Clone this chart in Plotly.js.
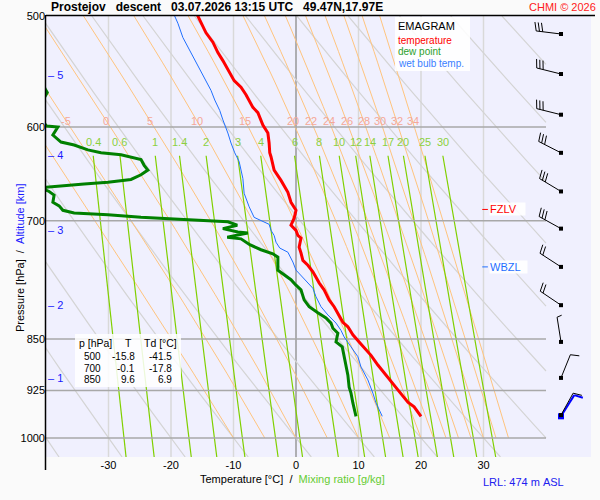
<!DOCTYPE html>
<html><head><meta charset="utf-8">
<script src="https://cdn.plot.ly/plotly-3.0.1.min.js"></script>
<style>html,body{margin:0;padding:0;background:#fafafa;}</style>
</head><body><div id="chart" style="width:600px;height:500px;"></div>
<script>
// ---------- profile data ----------
const tempP=[499,506,514,522,531,538,548,556,562,569,581,586,598,606,616,626,630,644,655,668,679,688,697,705,711,717,720,731,738,747,753,761,768,775,784,797,806,817,827,833,844,854,873,887,906,924,943,950,965];
const tempT=[-15.8,-15.2,-14.4,-13.3,-12.5,-11.7,-10.7,-9.9,-8.8,-8.0,-6.9,-6.1,-5.3,-4.5,-4.3,-4.2,-4.0,-3.5,-2.4,-1.3,-0.8,0.0,-0.3,-0.8,0.0,0.3,0.8,0.5,0.8,1.1,1.9,2.7,3.2,3.7,4.5,5.3,6.1,6.9,7.5,8.3,9.1,10.1,12.0,13.1,14.7,16.3,17.9,18.9,20.0];
const dewP=[499,538,563,567,572,585,599,600,608,615,618,623,626,628,633,639,644,649,654,657,659,661,663,667,671,679,683,688,691,693,696,698,700,701,705,709,713,714,719,721,728,734,739,743,759,765,771,778,784,797,806,814,821,828,835,842,854,861,875,891,902,920,929,944,965];
const dewT=[-41.5,-41.0,-40.2,-39.8,-40.3,-42.0,-39.9,-38.1,-38.9,-37.6,-35.5,-33.3,-31.2,-28.0,-24.8,-24.3,-23.7,-24.8,-26.4,-30.1,-33.9,-38.1,-40.8,-39.5,-38.7,-38.9,-37.9,-37.3,-35.5,-30.1,-24.8,-19.5,-13.6,-10.9,-9.4,-11.7,-9.3,-7.7,-11.0,-8.8,-7.4,-5.6,-3.7,-2.9,-2.9,-1.9,-0.8,0.0,0.8,1.3,2.1,3.5,4.8,5.6,5.9,6.7,6.4,7.4,7.7,8.0,8.3,8.5,8.8,9.1,9.6];
const wbP=[499,506,518,526,535,544,553,565,574,584,593,600,606,616,626,635,653,669,684,696,700,704,711,717,725,732,737,749,759,768,782,793,806,817,828,838,847,861,875,890,909,929,944,965];
const wbT=[-19.5,-18.9,-18.1,-17.3,-16.5,-15.5,-14.7,-13.6,-13.0,-12.2,-11.7,-11.2,-10.9,-10.4,-9.8,-9.1,-8.5,-8.3,-7.5,-6.7,-5.6,-4.3,-4.0,-3.5,-3.2,-2.6,-1.3,-0.5,0.0,1.1,2.7,3.2,4.0,5.1,6.4,7.2,7.7,8.8,9.9,10.4,11.5,12.3,12.8,13.8];

// wind barbs
const windP=[963,906,854,804,755,709,667,626,588,550,515];
const windDir=[29,22,351,304,303,299,301,297,284,284,277];
const windKt=[10,10,5,20,20,30,30,30,30,30,30];
const sfcWindP=[965], sfcWindDir=[32], sfcWindKt=[10];

// table
const tableP=[500,700,850], tableT=[-15.8,-0.1,9.6], tableTd=[-41.5,-17.8,6.9];

// levels
const fzlvP=687, wbzlP=755;
const altKm=[1,2,3,4,5], altP=[906,804,711,628,551];

// axes / reference lines
const isobars=[600,700,850,925,1000];
const pTicks=[500,600,700,850,925,1000];
const tTicks=[-30,-20,-10,0,10,20,30];
const isotherms=[-30,-20,-10,0,10,20,30];
const dryTheta=[-40,-30,-20,-10,0,10,20,30,40,50,60,70,80,90,100,110,120];
const moistThetaW=[-10,-5,0,5,10,15,20,22,24,26,28,30,32,34];
const moistLabels=[-5,0,5,10,15,20,22,24,26,28,30,32,34];
const mixRatios=[0.4,0.6,1,1.4,2,3,4,6,8,10,12,14,17,20,25,30];
const mixLabels=['0.4','0.6','1','1.4','2','3','4','6','8','10','12','14','17','20','25','30'];

// ---------- geometry ----------
const L=46,R=591,TOP=16,BOT=457;
const TMIN=-40,TMAX=47.2,TGRID=40;
const PTOP=500,PBOT=1031.7;
const PX_PER_C=(R-L)/(TMAX-TMIN);
const PX_PER_DEC=(BOT-TOP)/(Math.log10(PBOT)-Math.log10(PTOP));
function px(x){return (x-L)/(R-L);}
function py(y){return (BOT-y)/(BOT-TOP);}
const FONT='Liberation Sans, Arial, sans-serif';

// ---------- thermodynamics for reference lines ----------
function esat(Tc){return 6.112*Math.exp(17.67*Tc/(Tc+243.5));}
function dTdp(Tk,p){const es=esat(Tk-273.15);const rs=0.622*es/(p-es);
  const Lv=2.501e6,Rd=287.04,cp=1005.7;
  return (Rd*Tk+Lv*rs)/(cp+Lv*Lv*rs*0.622/(Rd*Tk*Tk))/p;}
function tdFromW(w,p){const e=w*p/(622+w);const l=Math.log(e/6.112);return 243.5*l/(17.67-l);}
function logSteps(p0,p1,n){const a=[];for(let i=0;i<=n;i++){a.push(p0*Math.pow(p1/p0,i/n));}return a;}

const traces=[];
// isotherms
(function(){const x=[],y=[],x0=[],y0=[];
 isotherms.forEach(t=>{ if(t===0){x0.push(t,t);y0.push(PTOP,PBOT);} else {x.push(t,t,null);y.push(PTOP,PBOT,null);} });
 traces.push({x,y,mode:'lines',line:{color:'#d9d9d9',width:1.5},hoverinfo:'skip'});
 traces.push({x:x0,y:y0,mode:'lines',line:{color:'#999999',width:1.5},hoverinfo:'skip'});
})();
// dry adiabats
(function(){const x=[],y=[];
 dryTheta.forEach(th=>{const K=th+273.15;const ps=logSteps(PTOP,PBOT,40);
   let prevIn=null;
   ps.forEach(p=>{const T=K*Math.pow(p/1000,0.2857)-273.15;
     if(T<=TGRID){x.push(T);y.push(p);prevIn=true;}
     else if(prevIn){const pc=1000*Math.pow((TGRID+273.15)/K,1/0.2857);x.push(TGRID);y.push(pc);prevIn=false;}
   });
   x.push(null);y.push(null);});
 traces.push({x,y,mode:'lines',line:{color:'#d4d4d4',width:1.2},hoverinfo:'skip'});
})();
// moist adiabats
const moistAt={};
(function(){const x=[],y=[];
 moistThetaW.forEach(tw=>{let T=tw+273.15,p=1000;x.push(tw);y.push(p);
   for(let i=1;i<=250;i++){const dp=-2;const k1=dTdp(T,p);const k2=dTdp(T+k1*dp,p+dp);T+=0.5*(k1+k2)*dp;p=1000-2*i;
     if(i%5===0){x.push(T-273.15);y.push(p);}
     if(p===594){moistAt[tw]=T-273.15;}}
   x.push(null);y.push(null);});
 traces.push({x,y,mode:'lines',line:{color:'#ffc47e',width:1},hoverinfo:'skip'});
})();
// mixing ratio lines
const mixAt=[];
(function(){const x=[],y=[];
 mixRatios.forEach(w=>{const ps=logSteps(629,PBOT,12);ps.forEach(p=>{x.push(tdFromW(w,p));y.push(p);});x.push(null);y.push(null);mixAt.push(tdFromW(w,629));});
 traces.push({x,y,mode:'lines',line:{color:'#80d000',width:1.2},hoverinfo:'skip'});
})();
// isobars
(function(){const x=[],y=[];isobars.forEach(p=>{x.push(TMIN,TGRID,null);y.push(p,p,null);});
 traces.push({x,y,mode:'lines',line:{color:'#a8a8a8',width:1.5},hoverinfo:'skip'});})();

// profiles
traces.push({x:wbT,y:wbP,mode:'lines',line:{color:'#1f6fff',width:1},hoverinfo:'skip'});
traces.push({x:dewT,y:dewP,mode:'lines',line:{color:'#008000',width:3},hoverinfo:'skip'});
traces.push({x:tempT,y:tempP,mode:'lines',line:{color:'#ff0000',width:3},hoverinfo:'skip'});

// level dashes
traces.push({x:[29.8,30.7],y:[fzlvP,fzlvP],mode:'lines',line:{color:'#ff0000',width:1},hoverinfo:'skip'});
traces.push({x:[29.8,30.7],y:[wbzlP,wbzlP],mode:'lines',line:{color:'#1f6fff',width:1},hoverinfo:'skip'});

// wind barbs
const BARB_T=42.4;
function off(T,p,dx,dy){return [T+dx/PX_PER_C, p*Math.pow(10,dy/PX_PER_DEC)];}
function barb(p,dir,kt,x,y){
  const d=dir*Math.PI/180;const ux=Math.sin(d),uy=-Math.cos(d);
  const px_=-uy,py_=ux;const a=15*Math.PI/180;
  const fx=px_*Math.cos(a)+ux*Math.sin(a), fy=py_*Math.cos(a)+uy*Math.sin(a);
  const S=25;
  let e=off(BARB_T,p,S*ux,S*uy);
  x.push(BARB_T,e[0],null);y.push(p,e[1],null);
  let n10=Math.floor(kt/10), n5=Math.round((kt-n10*10)/5);
  let k=0;
  for(let i=0;i<n10;i++,k++){const s=off(BARB_T,p,(S-k*3.3)*ux,(S-k*3.3)*uy);const t=off(BARB_T,p,(S-k*3.3)*ux+9*fx,(S-k*3.3)*uy+9*fy);
    x.push(s[0],t[0],null);y.push(s[1],t[1],null);}
  for(let i=0;i<n5;i++,k++){const s=off(BARB_T,p,(S-k*3.3)*ux,(S-k*3.3)*uy);const t=off(BARB_T,p,(S-k*3.3)*ux+5*fx,(S-k*3.3)*uy+5*fy);
    x.push(s[0],t[0],null);y.push(s[1],t[1],null);}
}
(function(){const bx=[],by=[];sfcWindP.forEach((p,i)=>barb(p,sfcWindDir[i],sfcWindKt[i],bx,by));
 traces.push({x:bx,y:by,mode:'lines',line:{color:'#0000ff',width:2},hoverinfo:'skip'});
 traces.push({x:sfcWindP.map(()=>BARB_T),y:sfcWindP,mode:'markers',marker:{symbol:'square',size:6,color:'#0000ff'},hoverinfo:'skip'});
 const x=[],y=[];windP.forEach((p,i)=>barb(p,windDir[i],windKt[i],x,y));
 traces.push({x,y,mode:'lines',line:{color:'#000000',width:1},hoverinfo:'skip'});
 traces.push({x:windP.map(()=>BARB_T),y:windP,mode:'markers',marker:{symbol:'square',size:4,color:'#000000'},hoverinfo:'skip'});
})();

// ---------- annotations ----------
const ann=[];
function A(o){ann.push(Object.assign({showarrow:false,borderpad:0,font:{family:FONT,size:11,color:'#000'}},o));}
const nb='\u00a0';
A({xref:'paper',yref:'paper',x:px(50),y:py(7.5),xanchor:'left',yanchor:'middle',
   text:'<b>Prostejov'+nb+nb+nb+'descent'+nb+nb+nb+'03.07.2026 13:15 UTC'+nb+nb+nb+'49.47N,17.97E</b>',font:{family:FONT,size:12,color:'#000'}});
A({xref:'paper',yref:'paper',x:px(597),y:py(7.5),xanchor:'right',yanchor:'middle',text:'CHMI © 2026',font:{family:FONT,size:11,color:'#ff2020'}});
// legend
A({xref:'paper',yref:'paper',x:px(397),y:py(26),xanchor:'left',yanchor:'middle',text:'EMAGRAM',font:{family:FONT,size:11,color:'#000'}});
A({xref:'paper',yref:'paper',x:px(397),y:py(40.5),xanchor:'left',yanchor:'middle',text:'temperature',font:{family:FONT,size:10,color:'#ff0000'}});
A({xref:'paper',yref:'paper',x:px(397),y:py(52),xanchor:'left',yanchor:'middle',text:'dew point',font:{family:FONT,size:10,color:'#2ca02c'}});
A({xref:'paper',yref:'paper',x:px(397),y:py(63.5),xanchor:'left',yanchor:'middle',text:'wet bulb temp.',font:{family:FONT,size:10,color:'#3a7fff'}});
// moist adiabat labels
moistLabels.forEach(tw=>{A({x:moistAt[tw],y:Math.log10(594),xanchor:'center',yanchor:'middle',text:String(tw),font:{family:FONT,size:11,color:'#f5a898'}});});
// mixing ratio labels
mixLabels.forEach((t,i)=>{A({x:mixAt[i],y:Math.log10(615),xanchor:'center',yanchor:'middle',text:t,font:{family:FONT,size:11,color:'#8cd040'}});});
// altitude labels
altKm.forEach((k,i)=>{A({x:TMIN+0.15,y:Math.log10(altP[i]),xanchor:'left',yanchor:'middle',text:'\u2013'+nb+k,font:{family:FONT,size:11,color:'#1a1aff'}});});
// freezing levels
A({x:30.8,y:Math.log10(fzlvP),xanchor:'left',yanchor:'middle',text:'FZLV'+nb+nb+nb,bgcolor:'rgba(255,255,255,0.9)',font:{family:FONT,size:11,color:'#ff0000'}});
A({x:30.8,y:Math.log10(wbzlP),xanchor:'left',yanchor:'middle',text:'WBZL'+nb+nb,bgcolor:'rgba(255,255,255,0.9)',font:{family:FONT,size:11,color:'#1f6fff'}});
// table
const TF={family:FONT,size:10.5,color:'#000'};
const TFr={family:FONT,size:10,color:'#000'};
A({xref:'paper',yref:'paper',x:px(78),y:py(343),xanchor:'left',yanchor:'middle',text:'p [hPa]',font:TF});
A({xref:'paper',yref:'paper',x:px(128),y:py(343),xanchor:'center',yanchor:'middle',text:'T',font:TF});
A({xref:'paper',yref:'paper',x:px(143),y:py(343),xanchor:'left',yanchor:'middle',text:'Td [°C]',font:TF});
tableP.forEach((p,i)=>{const yy=356.5+i*11.5;
  A({xref:'paper',yref:'paper',x:px(102),y:py(yy),xanchor:'right',yanchor:'middle',text:String(p),font:TFr});
  A({xref:'paper',yref:'paper',x:px(136),y:py(yy),xanchor:'right',yanchor:'middle',text:tableT[i].toFixed(1),font:TFr});
  A({xref:'paper',yref:'paper',x:px(173),y:py(yy),xanchor:'right',yanchor:'middle',text:tableTd[i].toFixed(1),font:TFr});
});
// axis titles
A({xref:'paper',yref:'paper',x:px(292),y:py(479),xanchor:'center',yanchor:'middle',
   text:'Temperature [°C]'+nb+nb+'/'+nb+nb+'<span style="color:#66cc33">Mixing ratio [g/kg]</span>'});
A({xref:'paper',yref:'paper',x:px(20),y:py(258),xanchor:'center',yanchor:'middle',textangle:-90,
   text:'Pressure [hPa]'+nb+nb+'/'+nb+nb+'<span style="color:#1a1aff">Altitude [km]</span>'});
A({xref:'paper',yref:'paper',x:px(482),y:py(482),xanchor:'left',yanchor:'middle',text:'LRL:'+nb+'474'+nb+'m'+nb+'ASL',font:{family:FONT,size:11,color:'#2020f0'}});

const shapes=[
 {type:'rect',xref:'paper',yref:'paper',x0:px(395),x1:px(470),y0:py(71),y1:py(17),fillcolor:'rgba(255,255,255,0.88)',line:{width:0},layer:'above'},
 {type:'rect',xref:'paper',yref:'paper',x0:px(75),x1:px(181),y0:py(387),y1:py(334),fillcolor:'rgba(255,255,255,0.85)',line:{width:0},layer:'above'},
 {type:'line',xref:'paper',yref:'paper',x0:px(46),x1:px(595),y0:py(15.5),y1:py(15.5),line:{color:'#000',width:1.5},layer:'above'},
 {type:'line',xref:'paper',yref:'paper',x0:px(45.5),x1:px(45.5),y0:py(15),y1:py(470),line:{color:'#000',width:1.5},layer:'above'}
];

const layout={
 width:600,height:500,margin:{l:L,r:600-R,t:TOP,b:500-BOT,pad:0},
 paper_bgcolor:'#fafafa',plot_bgcolor:'#f0f0fe',showlegend:false,hovermode:false,
 font:{family:FONT,size:11,color:'#000'},
 xaxis:{range:[TMIN,TMAX],showgrid:false,zeroline:false,showline:false,ticks:'',tickvals:tTicks,ticktext:tTicks.map(String),tickfont:{family:FONT,size:11,color:'#000'},fixedrange:true},
 yaxis:{type:'log',range:[Math.log10(PBOT),Math.log10(PTOP)],showgrid:false,zeroline:false,showline:false,ticks:'',tickvals:pTicks,ticktext:pTicks.map(String),tickfont:{family:FONT,size:11,color:'#000'},fixedrange:true},
 annotations:ann,shapes:shapes
};
Plotly.newPlot('chart',traces,layout,{staticPlot:true,displayModeBar:false});
</script></body></html>
